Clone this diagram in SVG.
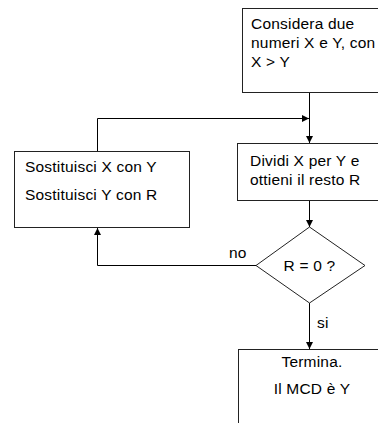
<svg xmlns="http://www.w3.org/2000/svg" width="378" height="423" viewBox="0 0 378 423">
<defs>
<style>
.box{fill:#fff;stroke:#222;stroke-width:1}
.ln{fill:none;stroke:#000;stroke-width:1}
text{font-family:"Liberation Sans",Arial,sans-serif;font-size:15.5px;letter-spacing:0.2px;fill:#000}
</style>
<marker id="ah" viewBox="0 0 10 10" refX="10" refY="5" markerWidth="7" markerHeight="7" markerUnits="userSpaceOnUse" orient="auto">
<path d="M0,0 L10,5 L0,10 z" fill="#000"/>
</marker>
</defs>
<rect width="378" height="423" fill="#fff"/>
<g id="connectors">
<path class="ln" d="M309.5,92 V143" marker-end="url(#ah)"/>
<path class="ln" d="M97.5,151 V118.5 H309" marker-end="url(#ah)"/>
<path class="ln" d="M309.5,200 V227" marker-end="url(#ah)"/>
<path class="ln" d="M256,265.5 H97.5 V228" marker-end="url(#ah)"/>
<path class="ln" d="M309.5,303 V349" marker-end="url(#ah)"/>
<text x="229" y="258">no</text>
<text x="317" y="328">si</text>
</g>
<g id="start">
<rect class="box" x="242.5" y="8.5" width="160" height="84"/>
<text x="251" y="29">Considera due</text>
<text x="251" y="48">numeri X e Y, con</text>
<text x="251" y="67">X &gt; Y</text>
</g>
<g id="divide">
<rect class="box" x="237.5" y="143.5" width="160" height="57"/>
<text x="250" y="166">Dividi X per Y e</text>
<text x="250" y="185">ottieni il resto R</text>
</g>
<g id="swap">
<rect class="box" x="14.5" y="151.5" width="175" height="76"/>
<text x="25" y="172">Sostituisci X con Y</text>
<text x="25" y="200">Sostituisci Y con R</text>
</g>
<g id="decision">
<polygon class="box" points="309.5,227 365,265.5 309.5,303 256,265.5"/>
<text x="309.5" y="271" text-anchor="middle">R = 0 ?</text>
</g>
<g id="end">
<rect class="box" x="238.5" y="349.5" width="160" height="90"/>
<text x="312" y="367" text-anchor="middle">Termina.</text>
<text x="312" y="394" text-anchor="middle">Il MCD è Y</text>
</g>
</svg>
